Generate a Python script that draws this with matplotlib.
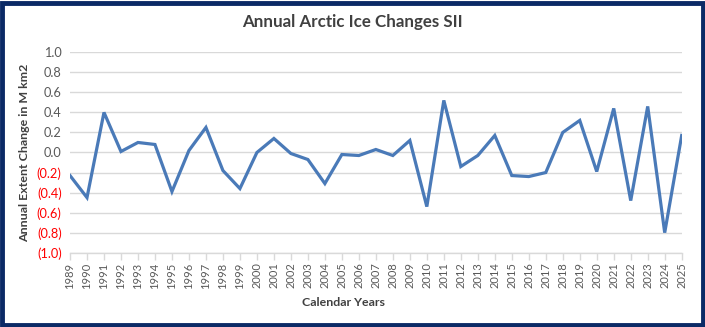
import matplotlib
matplotlib.use('Agg')
import matplotlib.pyplot as plt
from matplotlib.patches import Rectangle
from matplotlib.ticker import FixedLocator

years = list(range(1989, 2026))
changes = [-0.23, -0.45, 0.40, 0.01, 0.10, 0.08, -0.39, 0.02, 0.25, -0.18,
           -0.36, 0.00, 0.14, -0.01, -0.07, -0.31, -0.02, -0.03, 0.03, -0.03,
           0.12, -0.54, 0.52, -0.14, -0.03, 0.17, -0.23, -0.24, -0.20, 0.20,
           0.32, -0.19, 0.44, -0.48, 0.46, -0.80, 0.17]
yticks = [-1.0, -0.8, -0.6, -0.4, -0.2, 0.0, 0.2, 0.4, 0.6, 0.8, 1.0]


def fmt(v):
    if v < 0:
        return '({:.1f})'.format(-v)
    return '{:.1f}'.format(v)


def main():
    plt.rcParams['font.family'] = ['Lato', 'DejaVu Sans']

    fig = plt.figure(figsize=(7.05, 3.27), dpi=100)
    ax = fig.add_axes([70 / 705, 1 - 252.7 / 327, 611.7 / 705, 200.4 / 327])

    ax.plot(years, changes, color='#4a7ab8', linewidth=2.3, solid_joinstyle='miter')

    ax.set_xlim(1989, 2025)
    ax.set_ylim(-1.0, 1.0)
    ax.yaxis.set_major_locator(FixedLocator(yticks))
    ax.set_yticklabels([fmt(v) for v in yticks])
    for lbl, v in zip(ax.get_yticklabels(), yticks):
        lbl.set_color('#ff0000' if v < 0 else '#595959')
    ax.set_xticks(years)
    ax.set_xticklabels([str(y) for y in years], rotation=90, color='#595959')

    ax.tick_params(axis='y', length=0, pad=6, labelsize=9.2)
    ax.tick_params(axis='x', length=5, color='#d9d9d9', width=1, labelsize=8, pad=2)

    ax.grid(axis='y', color='#d9d9d9', linewidth=1)
    ax.set_axisbelow(True)
    for side in ['top', 'right', 'left']:
        ax.spines[side].set_visible(False)
    ax.spines['bottom'].set_color('#d9d9d9')
    ax.spines['bottom'].set_linewidth(1)

    ax.set_ylabel('Annual Extent Change in M km2', fontsize=8.9, fontweight='bold', color='#404040')
    ax.yaxis.set_label_coords(-40 / 611.7, 0.5)
    fig.text(344 / 705, 1 - 303 / 327, 'Calendar Years', ha='center', va='center',
             fontsize=8.9, fontweight='bold', color='#404040')
    fig.text(352 / 705, 1 - 22 / 327, 'Annual Arctic Ice Changes SII', ha='center', va='center',
             fontsize=12.2, fontweight='bold', color='#404040')

    # navy frame around the whole chart
    fig.patches.append(Rectangle((1.5 / 705, 2 / 327), 701.5 / 705, 322.5 / 327,
                                 transform=fig.transFigure, fill=False,
                                 edgecolor='#0b2a66', linewidth=3.5))

    fig.savefig('out.png', dpi=100)


if __name__ == '__main__':
    main()
